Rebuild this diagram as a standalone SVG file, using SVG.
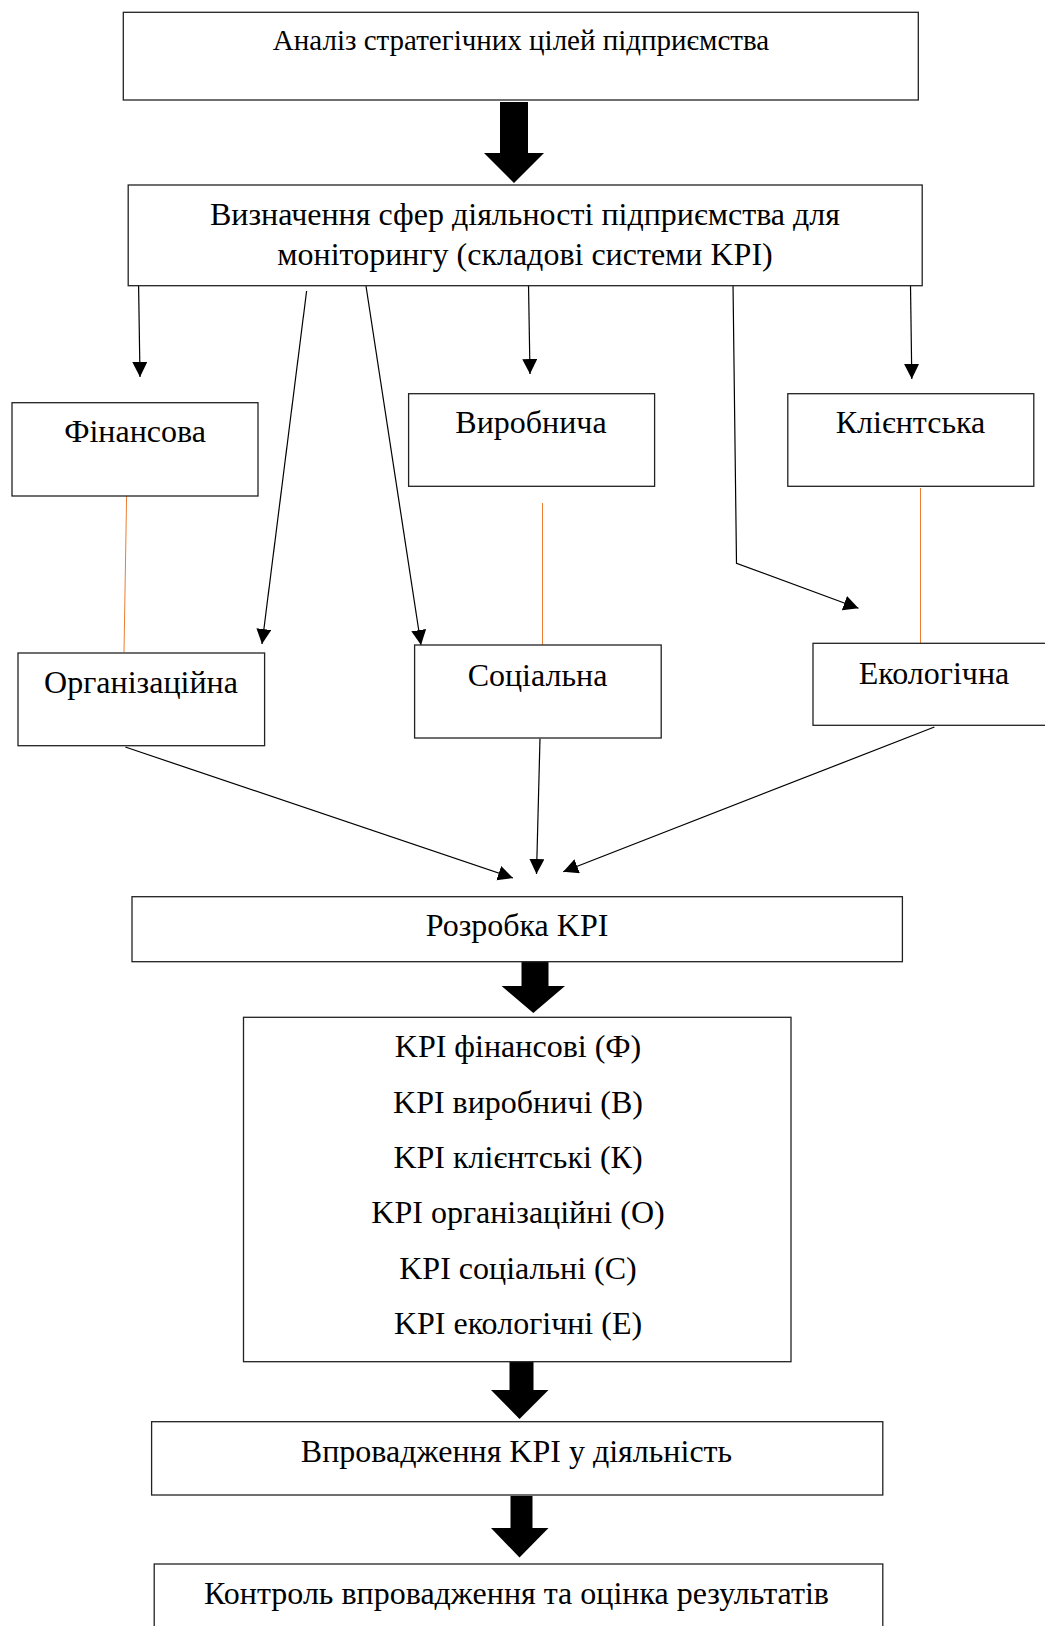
<svg xmlns="http://www.w3.org/2000/svg" width="1045" height="1626" viewBox="0 0 1045 1626">
<style>
.box{fill:#fff;stroke:#222;stroke-width:1.3}
.t{font-family:"Liberation Serif","Times New Roman",serif;fill:#000;text-anchor:middle;font-size:32px}
.ln{stroke:#000;stroke-width:1.2;fill:none}
.or{stroke:#ED7D31;stroke-width:1;fill:none}
.big{fill:#000}
</style>
<defs>
<marker id="ah" markerUnits="userSpaceOnUse" markerWidth="16" markerHeight="16" viewBox="0 0 16 16" refX="15" refY="7.5" orient="auto">
<path d="M0,0 L15,7.5 L0,15 Z" fill="#000"/>
</marker>
</defs>
<rect width="1045" height="1626" fill="#fff"/>

<g id="connectors">
<polygon class="big" points="500,102 528,102 528,153 544,153 514,183 484,153 500,153"/>
<polygon class="big" points="521.5,961 548.5,961 548.5,986 565,986 533.3,1013 501.6,986 521.5,986"/>
<polygon class="big" points="509.5,1362 533.5,1362 533.5,1390 548.5,1390 519.5,1419 491,1390 509.5,1390"/>
<polygon class="big" points="510.5,1496 532.5,1496 532.5,1528 548.5,1528 519.5,1557.5 491,1528 510.5,1528"/>
<line class="ln" x1="138.6" y1="286" x2="140" y2="377" marker-end="url(#ah)"/>
<line class="ln" x1="306.6" y1="291" x2="262" y2="644" marker-end="url(#ah)"/>
<line class="ln" x1="366" y1="286" x2="421" y2="645" marker-end="url(#ah)"/>
<line class="ln" x1="528.5" y1="284" x2="530" y2="374" marker-end="url(#ah)"/>
<polyline class="ln" points="733,283 736.5,563.3 858.5,608.3" marker-end="url(#ah)"/>
<line class="ln" x1="910.5" y1="285" x2="911.8" y2="379" marker-end="url(#ah)"/>
<line class="or" x1="126.6" y1="496" x2="124" y2="652"/>
<line class="or" x1="542.5" y1="503" x2="542.5" y2="645"/>
<line class="or" x1="920.5" y1="488" x2="920.5" y2="643"/>
<line class="ln" x1="125.3" y1="747" x2="513" y2="878" marker-end="url(#ah)"/>
<line class="ln" x1="540" y1="738.5" x2="536.5" y2="874" marker-end="url(#ah)"/>
<line class="ln" x1="934.4" y1="727" x2="563.2" y2="871.7" marker-end="url(#ah)"/>
</g>

<g id="n-analysis">
<rect class="box" x="123.3" y="12.3" width="795" height="87.7"/>
<text class="t" x="521" y="50" style="font-size:29px">Аналіз стратегічних цілей підприємства</text>
</g>
<g id="n-spheres">
<rect class="box" x="128.2" y="185" width="794" height="100.7"/>
<text class="t" x="525" y="225">Визначення сфер діяльності підприємства для</text>
<text class="t" x="525" y="265">моніторингу (складові системи KPI)</text>
</g>
<g id="n-fin">
<rect class="box" x="12" y="402.7" width="246" height="93.3"/>
<text class="t" x="135" y="441.5">Фінансова</text>
</g>
<g id="n-vyr">
<rect class="box" x="408.6" y="393.7" width="246" height="92.6"/>
<text class="t" x="531" y="433">Виробнича</text>
</g>
<g id="n-kli">
<rect class="box" x="787.8" y="393.7" width="246" height="92.6"/>
<text class="t" x="910.5" y="433">Клієнтська</text>
</g>
<g id="n-org">
<rect class="box" x="18" y="653" width="246.6" height="92.7"/>
<text class="t" x="141" y="692.5">Організаційна</text>
</g>
<g id="n-soc">
<rect class="box" x="414.6" y="645" width="246.6" height="93"/>
<text class="t" x="537.5" y="686">Соціальна</text>
</g>
<g id="n-eco">
<rect class="box" x="813" y="643.3" width="250" height="82"/>
<text class="t" x="934" y="684">Екологічна</text>
</g>
<g id="n-dev">
<rect class="box" x="132" y="896.7" width="770.4" height="65"/>
<text class="t" x="517" y="936">Розробка KPI</text>
</g>
<g id="n-kpis">
<rect class="box" x="243.5" y="1017.3" width="547.5" height="344.4"/>
<text class="t" x="518" y="1057">KPI фінансові (Ф)</text>
<text class="t" x="518" y="1112.5">KPI виробничі (В)</text>
<text class="t" x="518" y="1168">KPI клієнтські (К)</text>
<text class="t" x="518" y="1223">KPI організаційні (О)</text>
<text class="t" x="518" y="1278.5">KPI соціальні (С)</text>
<text class="t" x="518" y="1333.5">KPI екологічні (Е)</text>
</g>
<g id="n-impl">
<rect class="box" x="151.6" y="1421.7" width="731.2" height="73.3"/>
<text class="t" x="516.5" y="1462">Впровадження KPI у діяльність</text>
</g>
<g id="n-ctrl">
<rect class="box" x="154.2" y="1564" width="728.6" height="80"/>
<text class="t" x="516.5" y="1604">Контроль впровадження та оцінка результатів</text>
</g>
</svg>
